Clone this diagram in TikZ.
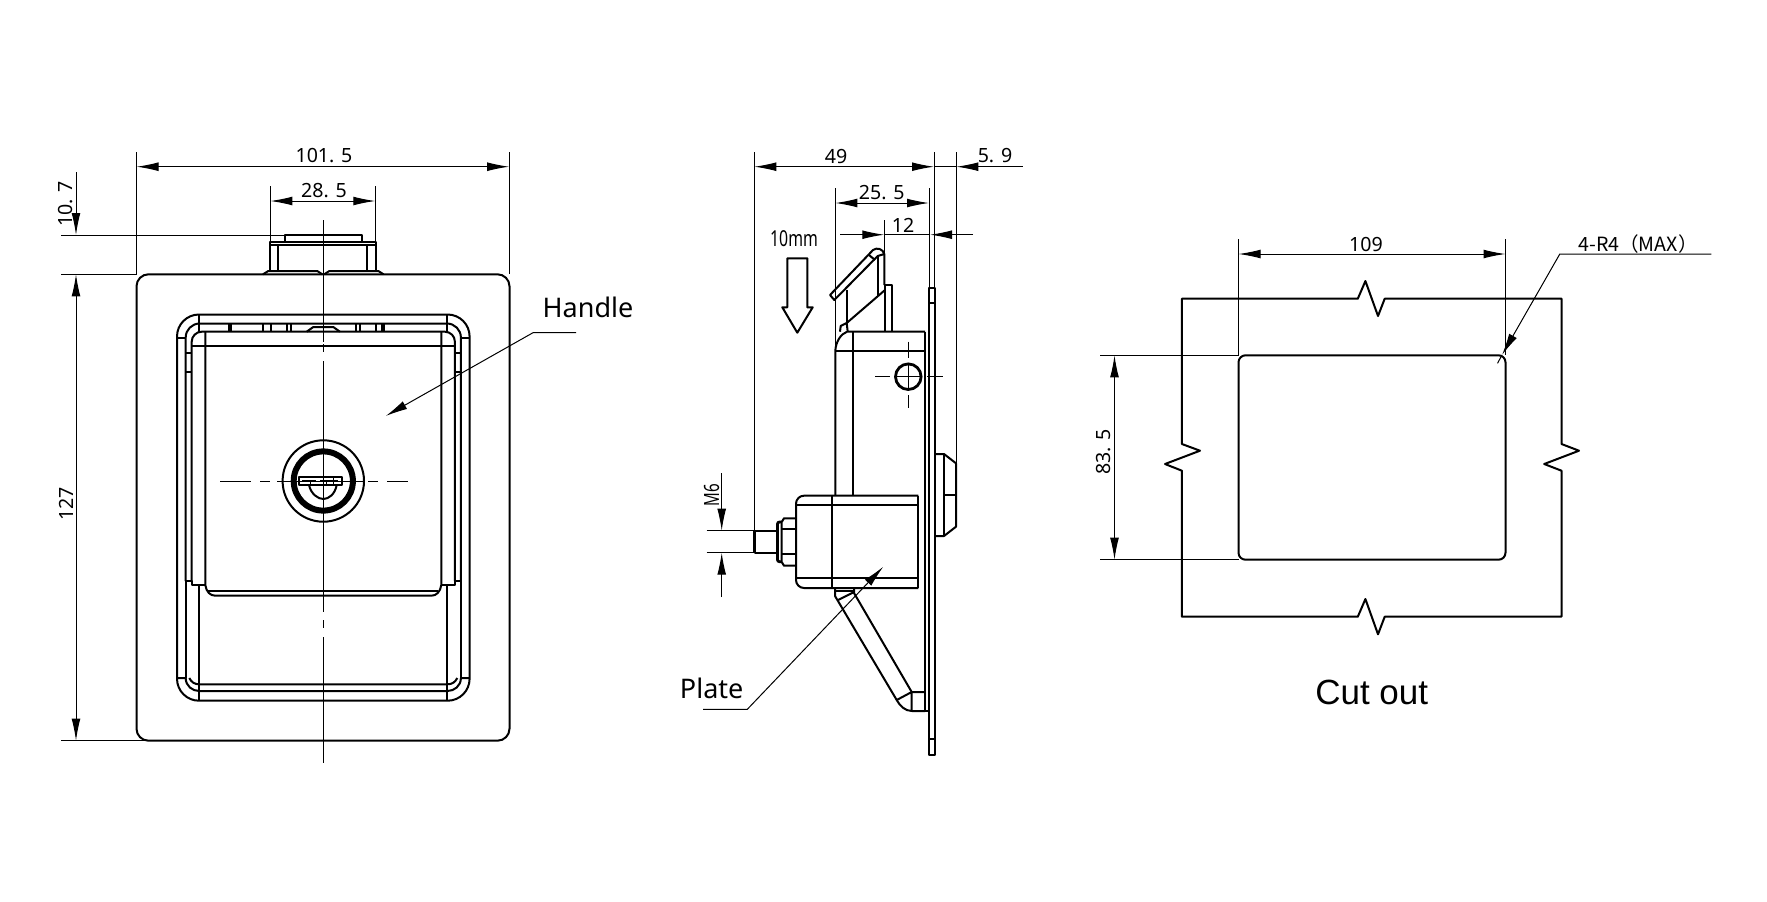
\documentclass[tikz,border=0pt]{standalone}
\usepackage{fontspec}
\setmainfont{Noto Sans}
\newfontfamily\cjk{Noto Sans CJK SC}
\newfontfamily\arial{Liberation Sans}
\newfontfamily\narrow[FakeStretch=0.72]{Noto Sans}
\usetikzlibrary{arrows.meta}
\tikzset{
  >={Latex[length=11pt,width=4.4pt]},
  outline/.style={line width=1pt,line join=round},
  thinline/.style={line width=0.5pt},
  dimline/.style={thinline,<->},
  dimtext/.style={inner sep=0pt,font=\fontsize{9.8}{12}\selectfont},
  calltext/.style={inner sep=0pt,font=\fontsize{13.5}{16}\selectfont},
}
\begin{document}
\begin{tikzpicture}[x=0.5pt,y=-0.5pt]
  \useasboundingbox (0,0) rectangle (1767,901);

  \draw[outline,rounded corners=6pt] (136.5,274.3) rectangle (509.5,740.7);
  \foreach \flip in {1,-1} {
    \begin{scope}[shift={(323.3,0)},xscale=\flip]
      \draw[outline,rounded corners=11pt] (0,314.5) -- (-146.3,314.5) -- (-146.3,700.7) -- (0,700.7);
      \draw[outline,rounded corners=7pt] (0,323.5) -- (-137.6,323.5) -- (-137.6,581);
      \draw[outline,rounded corners=5pt] (0,331.7) -- (-131.6,331.7) -- (-131.6,581);
      \draw[outline] (-137.6,581) -- (-131.6,581) -- (-131.6,585) -- (-118,585);
      \draw[outline] (-118,331.7) -- (-118,585) .. controls (-117,592) and (-113,595.7) .. (-108,595.7) -- (0,595.7);
      \draw[outline] (-115,590.7) -- (0,590.7);
      \draw[outline] (-131.6,345.5) -- (0,345.5);
      \draw[outline] (-124,314.5) -- (-124,331.7);
      \draw[outline] (-124,585) -- (-124,700.7);
      \draw[outline] (-137.6,581) -- (-137.6,678);
      \draw[outline] (-146.3,678) -- (-137.6,678) .. controls (-137.6,686) and (-131,691) .. (-124,691) -- (0,691);
      \draw[outline] (-134,678) .. controls (-132,682) and (-129,684.3) .. (-124,684.3) -- (0,684.3);
      \draw[outline] (-146.3,337.7) -- (-137.6,337.7);
      \draw[outline] (-137.6,352.7) -- (-131.6,352.7);
      \draw[outline] (-137.6,371.7) -- (-131.6,371.7);
      \draw[outline] (-60.6,323.5) -- (-60.6,331.7);
      \draw[outline] (-52.6,323.5) -- (-52.6,331.7);
      \draw[outline] (-36.6,323.5) -- (-36.6,331.7);
      \draw[outline] (-32.6,323.5) -- (-32.6,331.7);
      \draw[outline] (-60.3,274.3) -- (-55,271) -- (-6,271) -- (-1,274.3);
      \draw[outline] (-16.6,331.7) -- (-10,327) -- (0,327);
    \end{scope}
  }
  \draw[line width=2pt] (230,323.5) -- (230,331.7);
  \draw[line width=2pt] (383,323.5) -- (383,331.7);
  \draw[outline] (285,241.7) -- (285,235) -- (361.7,235) -- (361.7,241.7);
  \draw[outline] (270.3,270.5) -- (270.3,241.7) -- (376.3,241.7) -- (376.3,270.5);
  \draw[outline] (270.3,244.5) -- (376.3,244.5);
  \draw[outline] (278,244.5) -- (278,270.5);
  \draw[outline] (367.3,244.5) -- (367.3,270.5);

  \draw[outline] (323.3,481) circle [radius=20.35pt];
  \draw[line width=3pt] (323.3,481) circle [radius=14.8pt];
  \draw[outline] (299.3,476.7) rectangle (341.7,485);
  \draw[outline] (309,485) .. controls (311,494) and (318,499) .. (323.3,499) .. controls (329,499) and (335,494) .. (336.7,485);
  \draw[thinline] (302,480.5) -- (316,480.5) (320,480.5) -- (338,480.5) (310,480.5) -- (310,485) (326,480.5) -- (326,485) (333,477) -- (333,485);

  \draw[thinline] (323.3,220) -- (323.3,342);
  \draw[thinline] (323.3,344) -- (323.3,352);
  \draw[thinline] (323.3,361) -- (323.3,612);
  \draw[thinline] (323.3,620) -- (323.3,628);
  \draw[thinline] (323.3,637) -- (323.3,763);
  \draw[thinline] (220,481) -- (251,481);
  \draw[thinline] (260,481) -- (270,481);
  \draw[thinline] (277,481) -- (363,481);
  \draw[thinline] (368,481) -- (378,481);
  \draw[thinline] (387,481) -- (408,481);

  \draw[thinline] (136.5,152) -- (136.5,274.3);
  \draw[thinline] (509.2,152) -- (509.2,274.3);
  \draw[dimline] (136.5,166.7) -- (509.2,166.7);
  \node[dimtext] (width) at (324,156) {101. 5};
  \draw[thinline] (270.3,186) -- (270.3,241.7);
  \draw[thinline] (375.3,186) -- (375.3,241.7);
  \draw[dimline] (270.3,201) -- (375.3,201);
  \node[dimtext] (knob) at (324,191) {28. 5};
  \draw[thinline] (61,235) -- (285,235);
  \draw[thinline] (61,274.3) -- (136.5,274.3);
  \draw[thinline] (61,740.7) -- (148,740.7);
  \draw[thinline,->] (76,172) -- (76,235);
  \draw[dimline] (76,274.3) -- (76,740.7);
  \node[dimtext,rotate=90] (top) at (66,204) {10. 7};
  \node[dimtext,rotate=90] (height) at (66,504) {127};
  \node[calltext] (handle) at (588,307) {Handle};
  \coordinate (handlestart) at (576,332.7);
  \coordinate (handlebend) at (533,332.7);
  \coordinate (handletip) at (385.7,416);
  \draw[thinline,->] (handlestart) -- (handlebend) -- (handletip);

  \draw[outline] (929,331.7) -- (929,288.3) -- (935,288.3) -- (935,755) -- (928.5,755) -- (928.5,711);
  \draw[outline] (929,303.3) -- (935,303.3);
  \draw[outline] (928.5,739.3) -- (935,739.3);
  \draw[outline] (929,331.7) -- (929,711);
  \draw[outline] (925,331.7) -- (925,711);
  \draw[outline] (925,711) -- (928.5,711);
  \draw[outline] (925,331.7) -- (853.3,331.7) -- (847,331.7) .. controls (841,334) and (836,341) .. (835.3,350.7) -- (835.3,495.7);
  \draw[outline] (835.3,350.7) -- (925,350.7);
  \draw[outline] (853.3,331.7) -- (853.3,495.7);
  \draw[outline] (847.7,331.7) -- (846.7,323) -- (840.7,326) -- (840,331.7);
  \draw[outline] (846.7,323) -- (885,290);
  \draw[outline] (846.7,323) -- (846.7,290);
  \draw[outline] (884.5,331.7) -- (884.5,285.3) -- (892.3,285.3) -- (892.3,331.7);
  \draw[outline] (877.7,256) -- (877.7,296);
  \draw[outline] (884.3,285) -- (884.3,254) .. controls (883,249) and (877,247) .. (873,250) -- (830,295) -- (834.3,300) -- (877.7,256) -- (884.3,254);
  \draw[outline] (869,255) -- (875,260);

  \draw[line width=1.4pt] (908.3,376.7) circle [radius=6.4pt];
  \draw[thinline] (875,376.7) -- (890,376.7);
  \draw[thinline] (895,376.7) -- (922,376.7);
  \draw[thinline] (927,376.7) -- (942.7,376.7);
  \draw[thinline] (908.3,341.7) -- (908.3,358);
  \draw[thinline] (908.3,363) -- (908.3,390);
  \draw[thinline] (908.3,395) -- (908.3,408);

  \draw[outline,rounded corners=4pt] (918.3,495.7) -- (796,495.7) -- (796,588) -- (918.3,588);
  \draw[outline] (796,505) -- (918.3,505);
  \draw[outline] (796,578.3) -- (918.3,578.3);
  \draw[outline] (918.3,495.7) -- (918.3,588);
  \draw[outline] (831.7,495.7) -- (831.7,588);
  \draw[outline] (796,518.3) -- (784,518.3) -- (781.7,522) -- (781.7,562) -- (784,565.7) -- (796,565.7);
  \draw[outline] (781.7,529) -- (796,529);
  \draw[outline] (781.7,554) -- (796,554);
  \draw[line width=1.4pt,rounded corners=1pt] (781.7,522) -- (777.5,522) -- (777.5,561.7) -- (781.7,561.7);
  \draw[outline] (777,530.7) -- (754.5,530.7) -- (754.5,552.7) -- (777,552.7);
  \draw[line width=1.4pt] (754.5,530.7) -- (754.5,552.7);
  \draw[outline] (835,588) -- (835,596) -- (896.7,700) .. controls (900,706) and (905,711) .. (912,711) -- (925,711);
  \draw[outline] (854,588) -- (854,593) -- (911.7,692) -- (925,692);
  \draw[outline] (835,591) -- (854,591);
  \draw[outline] (838,600) -- (854,592);
  \draw[outline] (896.7,700) -- (911.7,692) -- (911.7,711);
  \draw[outline] (935,454) -- (944,454) -- (956,463.3) -- (956,526.7) -- (944,536) -- (935,536);
  \draw[outline] (944,454) -- (944,536);
  \draw[outline] (944,495) -- (956,495);

  \draw[outline] (787.3,258.3) -- (807.3,258.3) -- (807.3,307.3) -- (812.7,307.3) -- (797.3,332.7) -- (782.3,307.3) -- (787.3,307.3) -- cycle;
  \node[dimtext,font=\narrow\fontsize{11}{12}\selectfont] (travel) at (794,239) {10mm};

  \draw[thinline] (754.3,152) -- (754.3,530.7);
  \draw[thinline] (934,152) -- (934,288.3);
  \draw[thinline] (956.3,152) -- (956.3,463.3);
  \draw[dimline] (754.3,166.7) -- (934,166.7);
  \draw[thinline,->] (1022.7,166.7) -- (956.3,166.7);
  \draw[thinline] (934,166.7) -- (956.3,166.7);
  \node[dimtext] (depth) at (836,156) {49};
  \node[dimtext] (nut) at (995,156) {5. 9};
  \draw[thinline] (835.3,188) -- (835.3,350.7);
  \draw[thinline] (929,188) -- (929,288.3);
  \draw[dimline] (835.3,203) -- (929,203);
  \node[dimtext] (body) at (881.7,192.7) {25. 5};
  \draw[thinline] (884.3,220) -- (884.3,254);
  \draw[thinline,->] (840,234.7) -- (884.3,234.7);
  \draw[thinline] (884.3,234.7) -- (930,234.7);
  \draw[thinline,->] (973,234.7) -- (930,234.7);
  \node[dimtext] (flap) at (903,225) {12};
  \draw[thinline] (706.7,530.7) -- (754.3,530.7);
  \draw[thinline] (706.7,552.7) -- (754.3,552.7);
  \draw[thinline,->] (721.7,473) -- (721.7,530.7);
  \draw[thinline,->] (721.7,597) -- (721.7,552.7);
  \node[dimtext,rotate=90,font=\narrow\fontsize{10.5}{12}\selectfont] (bolt) at (711.7,495) {M6};
  \node[calltext] (plate) at (711.7,688) {Plate};
  \coordinate (platestart) at (703,709.3);
  \coordinate (platebend) at (747.3,709.3);
  \coordinate (platetip) at (883.3,566.7);
  \draw[thinline,->] (platestart) -- (platebend) -- (platetip);

  \draw[outline] (1357.8,298.7) -- (1181.9,298.7) -- (1181.9,444) -- (1200,450.7) -- (1165,464) -- (1181.9,470.7) -- (1181.9,616.7) -- (1357.8,616.7) -- (1365.4,599) -- (1378,634.3) -- (1384.7,616.7) -- (1561.5,616.7) -- (1561.5,470.7) -- (1544.2,464) -- (1579,450.7) -- (1561.5,444) -- (1561.5,298.7) -- (1384.7,298.7) -- (1378,316) -- (1365.4,281) -- cycle;
  \draw[outline,rounded corners=3.5pt] (1238.5,355.3) rectangle (1505.5,559.7);
  \draw[thinline] (1238.5,239) -- (1238.5,355.3);
  \draw[thinline] (1505.5,239) -- (1505.5,355.3);
  \draw[dimline] (1238.5,254) -- (1505.5,254);
  \node[dimtext] (cutwidth) at (1366,244) {109};
  \draw[thinline] (1100,355.3) -- (1238.5,355.3);
  \draw[thinline] (1100,559.7) -- (1238.5,559.7);
  \draw[dimline] (1114.5,355.3) -- (1114.5,559.7);
  \node[dimtext,rotate=90] (cutheight) at (1104,451.7) {83. 5};
  \coordinate (radiusend) at (1711.3,254);
  \coordinate (radiusbend) at (1559.8,254);
  \coordinate (radiustip) at (1502,355);
  \coordinate (radiuspast) at (1497.5,363.3);
  \draw[thinline,->] (radiusend) -- (radiusbend) -- (radiustip);
  \draw[thinline] (radiustip) -- (radiuspast);
  \node[dimtext,font=\cjk\fontsize{9.8}{12}\selectfont] (radius) at (1638,244) {4-R4（MAX）};
  \node[inner sep=0pt,font=\arial\fontsize{17.5}{20}\selectfont] (cutout) at (1371.7,692.7) {Cut out};
\end{tikzpicture}
\end{document}
